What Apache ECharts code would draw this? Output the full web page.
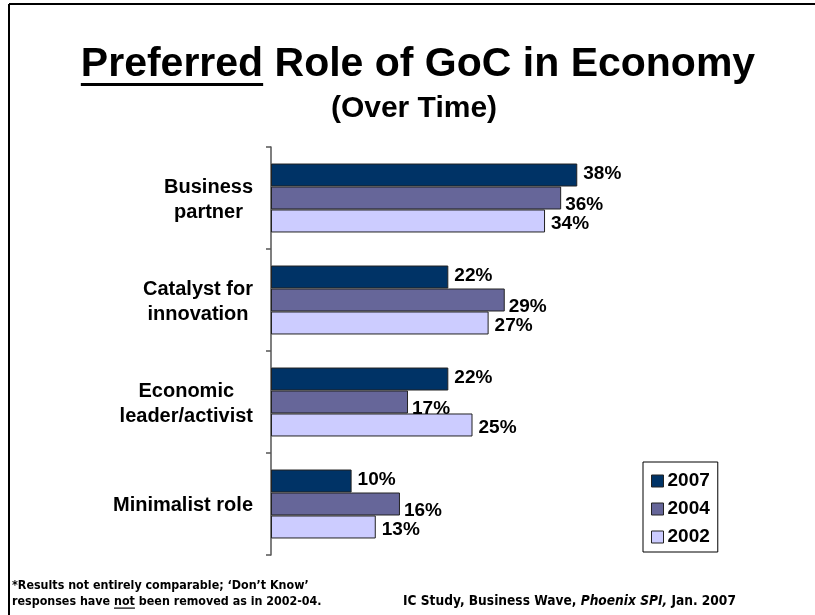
<!DOCTYPE html>
<html>
<head>
<meta charset="utf-8">
<script src="https://cdn.jsdelivr.net/npm/echarts@6/dist/echarts.min.js"></script>
<style>
  html, body { margin: 0; padding: 0; background: #fff; }
  #chart { width: 815px; height: 615px; }
</style>
</head>
<body>
<div id="chart"></div>
<script>
// Roles (top to bottom) and the share choosing each, per survey year
const categories = ['Business\npartner', 'Catalyst for\ninnovation', 'Economic\nleader/activist', 'Minimalist role'];
const years = ['2007', '2004', '2002'];
const values2007 = [38, 22, 22, 10];
const values2004 = [36, 29, 17, 16];
const values2002 = [34, 27, 25, 13];

const FONT = "'Liberation Sans', Arial, Helvetica, sans-serif";
const NARROW = "'Liberation Sans Narrow', 'Arial Narrow', 'DejaVu Sans Condensed', sans-serif";
const colors = ['#003366', '#666699', '#CCCCFF'];
// small nudges so stacked value labels do not crowd each other
const labelOffsets = [[0, -1], [-2, 7], [0, 3]];

function textWidth(str, font) {
  const ctx = document.createElement('canvas').getContext('2d');
  ctx.font = font;
  return ctx.measureText(str).width;
}
// y for a 'middle'-aligned line whose baseline should sit at `baseline`
function midY(baseline, size) { return baseline - 0.3465 * size; }
// font size that makes `str` span `width` pixels
function fitSize(str, family, style, width) {
  const w = textWidth(str, style + ' 20px ' + family);
  return 20 * width / w;
}

const chart = echarts.init(document.getElementById('chart'), null, { renderer: 'canvas' });

// Title with underlined first word
const titleText = 'Preferred Role of GoC in Economy';
const titleSize = 41;
const titleFont = 'bold ' + titleSize + 'px ' + FONT;
const titleW = textWidth(titleText, titleFont);
const titleLeft = 418 - titleW / 2;
const titleBase = 79;
const underlineW = textWidth('Preferred', titleFont);

const subSize = 30;
const subBase = 119;

// Footnote pieces
const noteLine1 = '*Results not entirely comparable; \u2018Don\u2019t Know\u2019';
const noteLine2 = 'responses have not been removed as in 2002-04.';
const sourceText = 'IC Study, Business Wave, Phoenix SPI, Jan. 2007';
const noteSize = fitSize(noteLine2, NARROW, 'bold', 310);
const noteFont = 'bold ' + noteSize + 'px ' + NARROW;
const srcSize = fitSize(sourceText, NARROW, 'bold', 333);
const noteX = 12;
const note1Base = 590;
const note2Base = 606;
const notePrefixW = textWidth('responses have ', noteFont);
const noteNotW = textWidth('not', noteFont);

const yearValues = [values2007, values2004, values2002];

const series = years.map((yr, i) => ({
  name: yr,
  type: 'bar',
  data: yearValues[i],
  barGap: '0%',
  barCategoryGap: '32.4%',
  itemStyle: { color: colors[i], borderColor: '#222', borderWidth: 1 },
  label: {
    show: true,
    position: 'right',
    distance: 6,
    offset: labelOffsets[i],
    formatter: p => p.value + '%',
    color: '#000',
    fontFamily: FONT,
    fontWeight: 'bold',
    fontSize: 19
  },
  emphasis: { disabled: true }
}));

const option = {
  backgroundColor: '#fff',
  animation: false,
  grid: { left: 271, right: 141, top: 147, bottom: 60, containLabel: false },
  xAxis: {
    type: 'value', min: 0, max: 50, show: false
  },
  yAxis: {
    type: 'category',
    data: categories,
    inverse: true,
    axisLine: { show: true, lineStyle: { color: '#555', width: 1.5 } },
    axisTick: { show: true, length: 5, lineStyle: { color: '#555', width: 1.5 } },
    axisLabel: {
      margin: 18,
      formatter: v => v.split('\n').map(s => '{c|' + s + '}').join('\n'),
      rich: {
        c: {
          align: 'center',
          fontFamily: FONT,
          fontWeight: 'bold',
          fontSize: 20,
          lineHeight: 25,
          padding: [3, 0, 0, 0],
          color: '#000'
        }
      }
    },
    splitLine: { show: false }
  },
  legend: {
    data: years,
    orient: 'vertical',
    left: 643,
    top: 462,
    icon: 'rect',
    itemWidth: 12,
    itemHeight: 12,
    itemGap: 8,
    padding: [9, 8, 5, 8],
    borderColor: '#000',
    borderWidth: 1,
    backgroundColor: '#fff',
    itemStyle: { borderColor: '#222', borderWidth: 1 },
    textStyle: { fontFamily: FONT, fontWeight: 'bold', fontSize: 19, lineHeight: 20, color: '#000', padding: [0, 0, 0, -1] },
    selectedMode: false
  },
  series: series,
  graphic: [
    // slide frame (top and left edges)
    { type: 'line', shape: { x1: 9, y1: 4, x2: 815, y2: 4 }, style: { stroke: '#000', lineWidth: 2 } },
    { type: 'line', shape: { x1: 9, y1: 4, x2: 9, y2: 615 }, style: { stroke: '#000', lineWidth: 2 } },
    // title
    {
      type: 'text',
      style: { text: titleText, x: titleLeft, y: midY(titleBase, titleSize), font: titleFont, fill: '#000', align: 'left', verticalAlign: 'middle' }
    },
    { type: 'rect', shape: { x: titleLeft, y: titleBase + 4, width: underlineW, height: 3 }, style: { fill: '#000' } },
    {
      type: 'text',
      style: { text: '(Over Time)', x: 414, y: midY(subBase, subSize), font: 'bold ' + subSize + 'px ' + FONT, fill: '#000', align: 'center', verticalAlign: 'middle' }
    },
    // footnotes
    {
      type: 'text',
      style: { text: noteLine1, x: noteX, y: midY(note1Base, noteSize), font: noteFont, fill: '#000', align: 'left', verticalAlign: 'middle' }
    },
    {
      type: 'text',
      style: { text: noteLine2, x: noteX, y: midY(note2Base, noteSize), font: noteFont, fill: '#000', align: 'left', verticalAlign: 'middle' }
    },
    { type: 'rect', shape: { x: noteX + notePrefixW, y: note2Base + 1.5, width: noteNotW, height: 1.2 }, style: { fill: '#000' } },
    {
      type: 'text',
      style: {
        text: '{n|IC Study, Business Wave, }{i|Phoenix SPI,}{n| Jan. 2007}',
        x: 403, y: midY(note2Base, srcSize), align: 'left', verticalAlign: 'middle',
        rich: {
          n: { fontFamily: NARROW, fontWeight: 'bold', fontSize: srcSize, fill: '#000' },
          i: { fontFamily: NARROW, fontWeight: 'bold', fontStyle: 'italic', fontSize: srcSize, fill: '#000' }
        }
      }
    }
  ]
};

chart.setOption(option);
</script>
</body>
</html>
